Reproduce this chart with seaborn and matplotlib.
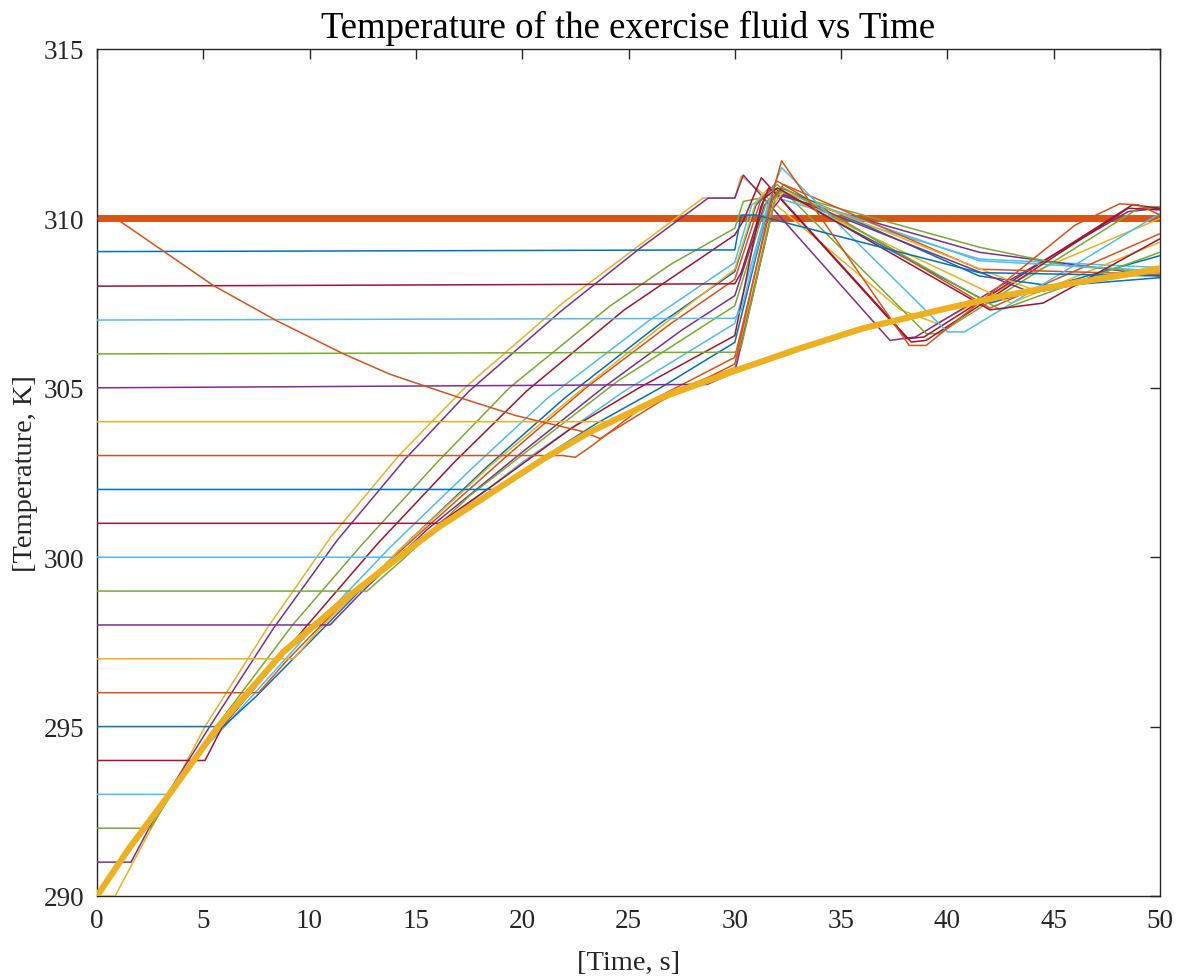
import numpy as np
import pandas as pd
import matplotlib
matplotlib.use("Agg")
import matplotlib.pyplot as plt
import seaborn as sns

# MATLAB-style default colour order
BLUE, ORANGE, YELLOW = "#0072BD", "#D95319", "#EDB120"
PURPLE, GREEN, LBLUE, DRED = "#7E2F8E", "#77AC30", "#4DBEEE", "#A2142F"

# Heating fluid (thick yellow) and set-point (thick orange)
t_fluid = [0, 1.5, 3.35, 5.7, 8.76, 11.74, 14.2, 16.1, 18.8, 21, 23.2, 26.5, 30, 33, 36, 40, 42.5, 46, 50]
T_fluid = [290, 291.4, 292.96, 295, 297.2, 298.8, 300, 300.9, 302.0, 302.9, 303.7, 304.7, 305.5, 306.15, 306.75, 307.35, 307.7, 308.1, 308.5]
t_setpoint = [0, 50]
T_setpoint = [310, 310]

# Individual exercise bodies, one per initial temperature
t_290 = [0, 0.85, 2.9, 5.08, 8.0, 11.0, 14.2, 17.3, 21.9, 25.5, 28.5, 30, 30.3, 31.0, 37.8, 39.5, 44, 50]
T_290 = [290, 290, 292.4, 295, 297.9, 300.6, 303.0, 305.0, 307.5, 309.2, 310.6, 310.6, 311.25, 310.9, 307.3, 306.9, 308.4, 310.0]

t_291 = [0, 1.6, 3.3, 5.3, 8.3, 11.3, 14.5, 17.5, 21.8, 25.5, 28.75, 30, 30.4, 31.0, 37.3, 38.5, 43, 48.5, 50]
T_291 = [291, 291, 293, 295, 297.9, 300.5, 302.9, 304.9, 307.25, 309.1, 310.6, 310.6, 311.28, 310.85, 306.4, 306.5, 308.2, 310.2, 310.3]

t_292 = [0, 2.5, 4.0, 5.6, 9.2, 12.5, 16.0, 19.4, 24.1, 27.0, 30, 30.4, 31.2, 32.0, 39.0, 39.6, 49.0, 50]
T_292 = [292, 292, 293.5, 295, 298, 300.4, 302.8, 305.0, 307.4, 308.65, 309.71, 310.5, 310.6, 311.0, 306.6, 306.6, 310.3, 310.35]

t_293 = [0, 3.3, 4.5, 6.0, 10.3, 13.8, 17.6, 21.2, 26.0, 30, 30.8, 31.5, 41.5, 50]
T_293 = [293, 293, 294, 295, 298, 300.3, 302.6, 304.7, 307.0, 308.7, 310.4, 310.7, 308.8, 308.55]

t_294 = [0, 5.08, 5.9, 9.9, 13.2, 16.8, 20.2, 24.8, 30, 30.4, 31.25, 38.1, 38.9, 48.7, 50]
T_294 = [294, 294, 295, 298, 300.4, 302.8, 304.9, 307.3, 309.51, 309.93, 311.2, 306.45, 306.5, 310.4, 310.3]

t_295 = [0, 5.94, 7.5, 10.8, 14.2, 18.4, 22.0, 26.5, 30, 31.0, 31.8, 42.0, 50]
T_295 = [295, 295, 295.9, 298, 300.2, 302.7, 304.7, 306.9, 308.43, 310.4, 310.9, 307.5, 308.9]

t_296 = [0, 7.6, 9.0, 11.5, 15.0, 19.3, 23.0, 27.0, 30, 31.2, 32.0, 42.0, 50]
T_296 = [296, 296, 297, 298.6, 300.6, 303.0, 305.0, 306.9, 308.2, 310.5, 311.1, 307.35, 309.55]

t_297 = [0, 9.24, 10.5, 14.2, 18.5, 22.5, 26.5, 30, 31.0, 31.6, 43.0, 50]
T_297 = [297, 297, 297.9, 300.2, 302.7, 304.8, 306.8, 308.5, 310.5, 310.9, 307.5, 309.3]

t_298 = [0, 10.96, 12.5, 15.5, 19.8, 23.8, 27.5, 30, 31.4, 32.0, 41.5, 50]
T_298 = [298, 298, 299, 300.8, 303.0, 305.0, 306.7, 307.72, 310.4, 310.7, 309.0, 308.3]

t_299 = [0, 12.7, 14.5, 17.5, 21.2, 24.5, 30, 31.5, 32.0, 41.5, 45.7, 50]
T_299 = [299, 299, 300, 301.8, 303.6, 305.2, 307.42, 310.5, 310.8, 309.15, 308.6, 308.4]

t_300 = [0, 14.3, 16.5, 20.0, 24.8, 30, 31.6, 32.1, 41.5, 50]
T_300 = [300, 300, 301.1, 302.8, 304.9, 306.9, 310.5, 310.8, 308.75, 308.45]

t_301 = [0, 16.1, 18.8, 22.3, 25.5, 30, 31.2, 31.6, 32.0, 38.3, 39.0, 48.5, 50]
T_301 = [301, 301, 302.2, 303.8, 305.0, 306.54, 310.3, 310.9, 310.7, 306.35, 306.4, 310.3, 310.25]

t_302 = [0, 18.7, 21.0, 23.5, 26.5, 30, 31.6, 32.2, 41.5, 45, 50]
T_302 = [302, 302, 302.95, 303.95, 305.0, 306.34, 310.4, 310.9, 308.3, 308.0, 308.25]

t_303 = [0, 21.9, 22.5, 23.3, 26.0, 30, 31.8, 32.3, 41.5, 50]
T_303 = [303, 303, 302.95, 303.3, 304.6, 305.9, 310.6, 311.0, 308.5, 308.35]

t_304 = [0, 24.2, 27.0, 30, 31.8, 32.3, 44, 50]
T_304 = [304, 304, 304.9, 305.6, 310.4, 310.8, 307.9, 308.6]

t_305 = [0, 28.7, 30, 31.8, 32.3, 44, 50]
T_305 = [305, 305.1, 305.46, 310.3, 310.7, 307.8, 308.5]

t_306 = [0, 30, 30.3, 31.9, 32.3, 42.5, 50]
T_306 = [306, 306.05, 306.2, 310.6, 310.9, 307.3, 309.0]

t_307 = [0, 30, 30.3, 31.8, 32.2, 40.0, 40.8, 50]
T_307 = [307, 307.05, 307.3, 310.9, 311.5, 306.65, 306.65, 310.15]

t_308 = [0, 30, 30.3, 31.4, 32.0, 42.0, 44.5, 50]
T_308 = [308, 308.07, 308.4, 310.6, 310.9, 307.3, 307.5, 309.4]

t_309 = [0, 30, 30.3, 31.0, 41.5, 50]
T_309 = [309.02, 309.07, 310.1, 310.1, 308.4, 308.3]

t_310 = [0, 1.05, 5.47, 8.45, 11.6, 13.78, 16.76, 19.7, 22.9, 23.66, 26.5, 30, 31.8, 32.2, 38.2, 39.0, 46.0, 48.1, 49.0, 50]
T_310 = [310, 309.93, 308.02, 306.98, 306.0, 305.4, 304.77, 304.18, 303.7, 303.5, 304.6, 305.7, 310.8, 311.7, 306.25, 306.25, 309.8, 310.43, 310.4, 310.1]

bodies = [
    ("290 K", t_290, T_290, YELLOW), ("291 K", t_291, T_291, PURPLE),
    ("292 K", t_292, T_292, GREEN), ("293 K", t_293, T_293, LBLUE),
    ("294 K", t_294, T_294, DRED), ("295 K", t_295, T_295, BLUE),
    ("296 K", t_296, T_296, ORANGE), ("297 K", t_297, T_297, YELLOW),
    ("298 K", t_298, T_298, PURPLE), ("299 K", t_299, T_299, GREEN),
    ("300 K", t_300, T_300, LBLUE), ("301 K", t_301, T_301, DRED),
    ("302 K", t_302, T_302, BLUE), ("303 K", t_303, T_303, ORANGE),
    ("304 K", t_304, T_304, YELLOW), ("305 K", t_305, T_305, PURPLE),
    ("306 K", t_306, T_306, GREEN), ("307 K", t_307, T_307, LBLUE),
    ("308 K", t_308, T_308, DRED), ("309 K", t_309, T_309, BLUE),
    ("310 K", t_310, T_310, ORANGE),
]

frames = []
for name, tt, TT, _ in bodies:
    frames.append(pd.DataFrame({"body": name, "t": tt, "T": TT}))
df = pd.concat(frames, ignore_index=True)
palette = {name: col for name, _, _, col in bodies}

sns.set_style("white")
plt.rcParams["font.family"] = ["Liberation Serif", "DejaVu Serif"]

fig = plt.figure(figsize=(11.82, 9.78), dpi=100)
ax = fig.add_axes([97 / 1182, 1 - 897 / 978, (1160 - 97) / 1182, (897 - 50) / 978])

sns.lineplot(x=t_setpoint, y=T_setpoint, color=ORANGE, linewidth=5, ax=ax, zorder=2)
sns.lineplot(data=df, x="t", y="T", hue="body", palette=palette, units="body",
             estimator=None, sort=False, linewidth=1.1, legend=False, ax=ax, zorder=3)
sns.lineplot(x=t_fluid, y=T_fluid, color=YELLOW, linewidth=4.5, ax=ax, zorder=4)

ax.set_xlim(0, 50)
ax.set_ylim(290, 315)
ax.set_xticks(np.arange(0, 51, 5))
ax.set_yticks(np.arange(290, 316, 5))
ax.tick_params(direction="in", length=7, width=1, top=True, right=True,
               labelsize=19.5, colors="#262626", pad=9)
for s in ax.spines.values():
    s.set_visible(True)
    s.set_color("#262626")
    s.set_linewidth(1.0)

ax.set_title("Temperature of the exercise fluid vs Time", fontsize=26.5, pad=9, color="black")
ax.set_xlabel("[Time, s]", fontsize=20.5, color="#262626", labelpad=12)
ax.set_ylabel("[Temperature, K]", fontsize=20.5, color="#262626", labelpad=4)

fig.savefig("out.png", dpi=100)
